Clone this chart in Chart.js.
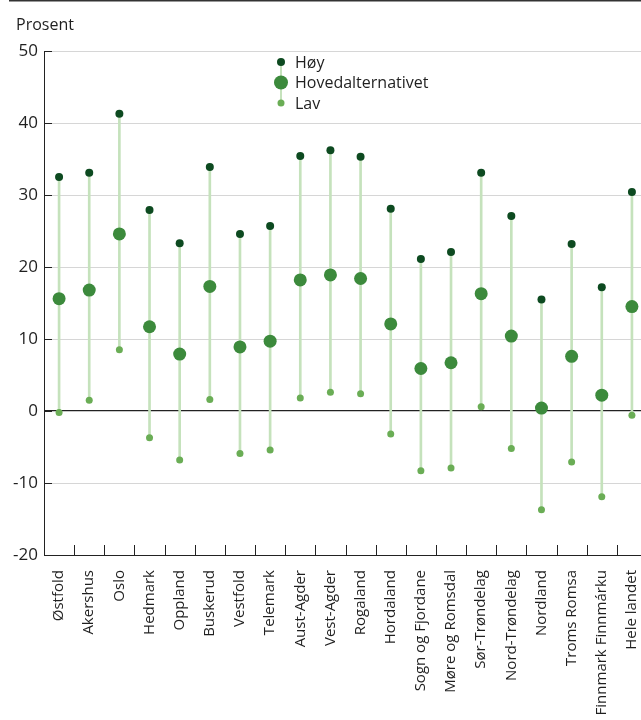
<!DOCTYPE html>
<html><head><meta charset="utf-8">
<script src="https://cdn.jsdelivr.net/npm/chart.js@4"></script>
<style>html,body{margin:0;padding:0;overflow:hidden;background:#fff;width:641px;height:720px}#wrap{width:647px;height:720px;position:relative}canvas{display:block;width:647px;height:720px}</style>
</head><body><div id="wrap"><canvas id="c" width="647" height="720"></canvas></div>
<script>
const categories = ['Østfold','Akershus','Oslo','Hedmark','Oppland','Buskerud','Vestfold','Telemark','Aust-Agder','Vest-Agder','Rogaland','Hordaland','Sogn og Fjordane','Møre og Romsdal','Sør-Trøndelag','Nord-Trøndelag','Nordland','Troms Romsa','Finnmark Finnmárku','Hele landet'];
const hoy = [32.5, 33.1, 41.3, 27.9, 23.3, 33.9, 24.6, 25.7, 35.4, 36.2, 35.3, 28.1, 21.1, 22.1, 33.1, 27.1, 15.5, 23.2, 17.2, 30.4];
const hovedalternativet = [15.6, 16.8, 24.6, 11.7, 7.9, 17.3, 8.9, 9.7, 18.2, 18.9, 18.4, 12.1, 5.9, 6.7, 16.3, 10.4, 0.4, 7.6, 2.2, 14.5];
const lav = [-0.2, 1.5, 8.5, -3.7, -6.8, 1.6, -5.9, -5.4, 1.8, 2.6, 2.4, -3.2, -8.3, -7.9, 0.6, -5.2, -13.7, -7.1, -11.9, -0.6];
const seriesNames = ['Høy', 'Hovedalternativet', 'Lav'];
const yAxisTitle = 'Prosent';
const yMin = -20, yMax = 50, yStep = 10;

const FONT = "'Open Sans', sans-serif";
const C_HOY = '#0d4a20', C_HOVED = '#3c8a3c', C_LAV = '#6aad55', C_LINE = '#c5e2bc';
const TXT = '#1f1f1f';

const decor = {
  id: 'decor',
  afterDraw(chart) {
    const ctx = chart.ctx, x = chart.scales.x, y = chart.scales.y, a = chart.chartArea;
    ctx.save();
    ctx.strokeStyle = '#333'; ctx.lineWidth = 1.5;
    ctx.beginPath(); ctx.moveTo(9, 0.75); ctx.lineTo(chart.width, 0.75); ctx.stroke();
    ctx.strokeStyle = '#222'; ctx.lineWidth = 1;
    y.ticks.forEach(t => {
      const py = Math.round(y.getPixelForValue(t.value)) + 0.5;
      ctx.beginPath(); ctx.moveTo(a.left, py); ctx.lineTo(a.left + 8, py); ctx.stroke();
    });
    for (let i = 1; i < categories.length; i++) {
      const px = Math.round((x.getPixelForValue(i - 1) + x.getPixelForValue(i)) / 2) + 0.5;
      ctx.beginPath(); ctx.moveTo(px, a.bottom); ctx.lineTo(px, a.bottom - 10); ctx.stroke();
    }
    ctx.fillStyle = TXT; ctx.font = '16px ' + FONT; ctx.textAlign = 'left'; ctx.textBaseline = 'alphabetic';
    ctx.fillText(yAxisTitle, 16, 30);
    // legend
    const lx = 281, ly = [62, 82.5, 103], lr = [4, 7, 3.5], lc = [C_HOY, C_HOVED, C_LAV];
    ctx.strokeStyle = C_LINE; ctx.lineWidth = 2;
    ctx.beginPath(); ctx.moveTo(lx, ly[0]); ctx.lineTo(lx, ly[2]); ctx.stroke();
    ctx.font = '16px ' + FONT; ctx.textBaseline = 'middle';
    for (let i = 0; i < 3; i++) {
      ctx.fillStyle = lc[i]; ctx.beginPath(); ctx.arc(lx, ly[i], lr[i], 0, Math.PI * 2); ctx.fill();
      ctx.fillStyle = TXT; ctx.fillText(seriesNames[i], 295, ly[i] + 1);
    }
    ctx.restore();
  }
};

const ptDs = (label, data, color, r) => ({
  type: 'line', label, data, showLine: false, order: 1,
  pointRadius: r, pointHoverRadius: r, pointBackgroundColor: color, pointBorderWidth: 0, borderColor: color
});

new Chart(document.getElementById('c'), {
  type: 'bar',
  data: {
    labels: categories,
    datasets: [
      { type: 'bar', label: 'range', data: lav.map((l, i) => [l, hoy[i]]), backgroundColor: C_LINE, borderWidth: 0, barThickness: 2, order: 10 },
      ptDs(seriesNames[0], hoy, C_HOY, 4),
      ptDs(seriesNames[1], hovedalternativet, C_HOVED, 6.5),
      ptDs(seriesNames[2], lav, C_LAV, 3.5)
    ]
  },
  options: {
    responsive: false, animation: false, devicePixelRatio: 1,
    layout: { autoPadding: false, padding: { top: 51, left: 0, right: 0, bottom: 0 } },
    plugins: { legend: { display: false }, tooltip: { enabled: false } },
    scales: {
      x: {
        offset: true,
        grid: { display: false },
        border: { display: true, color: '#222', width: 1 },
        ticks: { autoSkip: false, minRotation: 90, maxRotation: 90, padding: 7, color: TXT, font: { family: FONT, size: 15 } },
        afterFit(s) { s.height = 165; s.paddingLeft = 0; s.paddingRight = 0; }
      },
      y: {
        min: yMin, max: yMax,
        grid: {
          drawTicks: false,
          color: c => (c.tick && (c.tick.value === 0 || c.tick.value === yMin)) ? '#222' : '#d6d6d6',
          lineWidth: c => (c.tick && c.tick.value === 0) ? 1.2 : 1
        },
        border: { display: true, color: '#222', width: 1 },
        ticks: { stepSize: yStep, padding: 6, color: TXT, font: { family: FONT, size: 17 } },
        afterFit(s) { s.width = 44; }
      }
    }
  },
  plugins: [decor]
});
</script></body></html>
